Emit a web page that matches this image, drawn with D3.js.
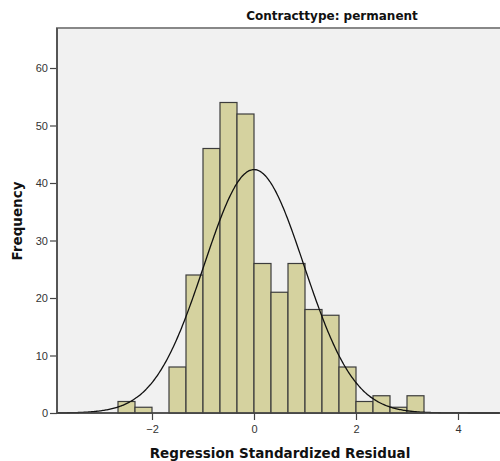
<!DOCTYPE html>
<html>
<head>
<meta charset="utf-8">
<script src="https://cdn.jsdelivr.net/npm/d3@7"></script>
<style>
  html, body { margin: 0; padding: 0; background: #ffffff; }
  svg { display: block; font-family: "DejaVu Sans", Verdana, sans-serif; }
</style>
</head>
<body>
<svg id="chart" width="500" height="461"></svg>
<script>
// Histogram of regression standardized residuals (bins of width 1/3)
const binStarts = [-8/3, -7/3, -2, -5/3, -4/3, -1, -2/3, -1/3, 0, 1/3, 2/3, 1, 4/3, 5/3, 2, 7/3, 8/3, 3];
const binWidth = 1/3;
const frequencies = [2, 1, 0, 8, 24, 46, 54, 52, 26, 21, 26, 18, 17, 8, 2, 3, 1, 3];
const xTicks = [-2, 0, 2, 4];
const yTicks = [0, 10, 20, 30, 40, 50, 60];
const residualMean = 0.0;
const residualSD = 0.98;
const title = "Contracttype: permanent";
const xTitle = "Regression Standardized Residual";
const yTitle = "Frequency";

const svg = d3.select("#chart");
const plot = { left: 57, top: 28, right: 520, bottom: 413 };

const x = d3.scaleLinear().domain([0, 4]).range([254, 458]);
const y = d3.scaleLinear().domain([0, 60]).range([413, 68]);

// plot background and frame
svg.append("rect")
  .attr("x", plot.left).attr("y", plot.top)
  .attr("width", plot.right - plot.left).attr("height", plot.bottom - plot.top)
  .attr("fill", "#f1f1f1").attr("stroke", "#888").attr("stroke-width", 2);

// bars
const bins = binStarts.map((s, i) => ({ x0: s, x1: s + binWidth, n: frequencies[i] }));
svg.append("g").selectAll("rect")
  .data(bins.filter(d => d.n > 0))
  .join("rect")
  .attr("x", d => x(d.x0))
  .attr("y", d => y(d.n))
  .attr("width", d => x(d.x1) - x(d.x0))
  .attr("height", d => y(0) - y(d.n))
  .attr("fill", "#d5d29f")
  .attr("stroke", "#3c3c3c")
  .attr("stroke-width", 1.2);

// normal curve scaled to counts
const total = d3.sum(frequencies);
const curvePts = d3.range(x.invert(plot.left), x.invert(500) + 0.01, 0.02).map(v => {
  const z = (v - residualMean) / residualSD;
  return [v, total * binWidth * Math.exp(-0.5 * z * z) / (residualSD * Math.sqrt(2 * Math.PI))];
});
svg.append("path")
  .datum(curvePts)
  .attr("fill", "none")
  .attr("stroke", "#111")
  .attr("stroke-width", 1.3)
  .attr("d", d3.line().x(d => x(d[0])).y(d => y(d[1])).curve(d3.curveBasis));

// axes
const yAxis = svg.append("g")
  .attr("transform", `translate(${plot.left},0)`)
  .call(d3.axisLeft(y).tickValues(yTicks).tickSize(7).tickPadding(2).tickFormat(d3.format("d")));
const xAxis = svg.append("g")
  .attr("transform", `translate(0,${plot.bottom})`)
  .call(d3.axisBottom(x).tickValues(xTicks).tickSize(7).tickPadding(5)
    .tickFormat(d => d < 0 ? "\u2212" + Math.abs(d) : d));
[yAxis, xAxis].forEach(g => {
  g.select(".domain").remove();
  g.selectAll("line").attr("stroke", "#444").attr("stroke-width", 1.2);
  g.selectAll("text").attr("fill", "#333").style("font-size", "11px");
});
// axis lines
svg.append("line").attr("x1", plot.left).attr("x2", plot.left).attr("y1", plot.top).attr("y2", plot.bottom)
  .attr("stroke", "#555").attr("stroke-width", 2);
svg.append("line").attr("x1", plot.left).attr("x2", plot.right).attr("y1", plot.bottom).attr("y2", plot.bottom)
  .attr("stroke", "#444").attr("stroke-width", 1.5);

// titles
svg.append("text").attr("x", 332).attr("y", 20).attr("text-anchor", "middle")
  .style("font-size", "12px").style("font-weight", "bold").attr("fill", "#111").text(title);
svg.append("text").attr("x", 280).attr("y", 458).attr("text-anchor", "middle")
  .style("font-size", "13.5px").style("font-weight", "bold").attr("fill", "#111").text(xTitle);
svg.append("text").attr("transform", "translate(22,221) rotate(-90)").attr("text-anchor", "middle")
  .style("font-size", "13.5px").style("font-weight", "bold").attr("fill", "#111").text(yTitle);
</script>
</body>
</html>
